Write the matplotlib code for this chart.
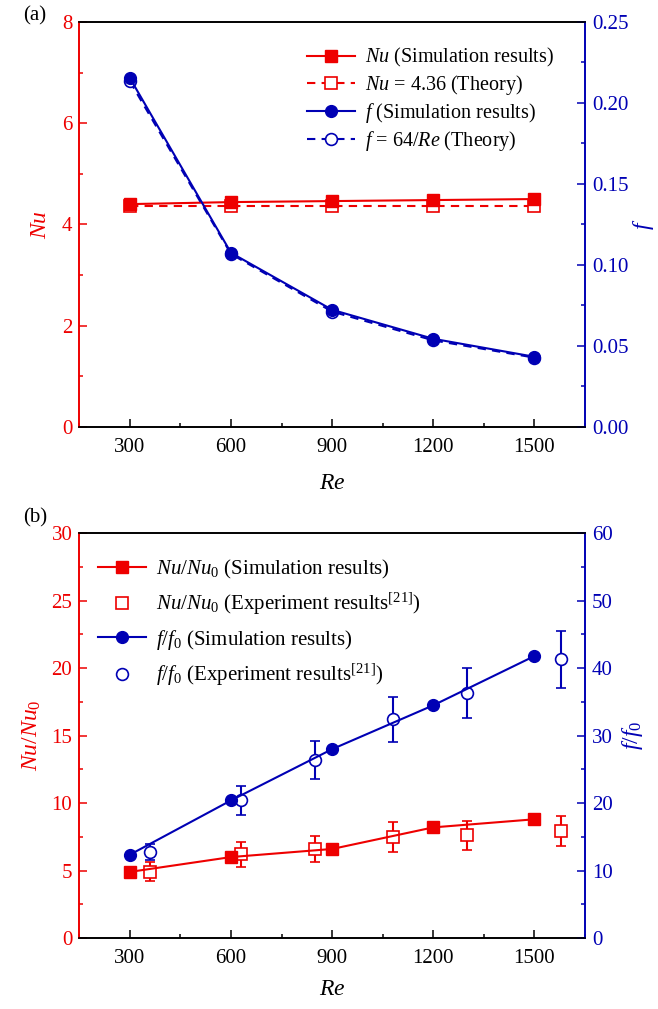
import matplotlib
matplotlib.use("Agg")
import matplotlib.pyplot as plt
import numpy as np
from matplotlib.ticker import MultipleLocator
from matplotlib.lines import Line2D

plt.rcParams['font.family'] = ['Liberation Serif', 'DejaVu Serif']
plt.rcParams['mathtext.fontset'] = 'custom'
plt.rcParams['mathtext.rm'] = 'Liberation Serif'
plt.rcParams['mathtext.it'] = 'Liberation Serif:italic'
plt.rcParams['mathtext.bf'] = 'Liberation Serif:bold'

# ---- data panel (a) ----
re_a = [300, 600, 900, 1200, 1500]
nu_sim = [4.40, 4.44, 4.46, 4.48, 4.50]
nu_theory = [4.36, 4.36, 4.36, 4.36, 4.36]
f_sim = [0.2154, 0.1074, 0.0722, 0.0543, 0.0432]
f_theory = [64 / r for r in re_a]

# ---- data panel (b) ----
re_b_sim = [300, 600, 900, 1200, 1500]
nu_ratio_sim = [4.9, 6.0, 6.6, 8.2, 8.8]
f_ratio_sim = [12.35, 20.4, 28.0, 34.5, 41.8]
re_b_exp = [360, 630, 850, 1080, 1300, 1580]
nu_ratio_exp = [4.9, 6.2, 6.6, 7.5, 7.6, 7.95]
nu_ratio_err = [0.7, 0.93, 0.95, 1.1, 1.1, 1.13]
f_ratio_exp = [12.75, 20.4, 26.4, 32.4, 36.3, 41.3]
f_ratio_err = [1.25, 2.1, 2.8, 3.3, 3.75, 4.25]

RED = '#ee0000'
BLUE = '#0000b4'
W, H = 658, 1009
fig = plt.figure(figsize=(W / 100, H / 100), dpi=100)

def ax_rect(l, r, t, b):
    return [l / W, 1 - b / H, (r - l) / W, (b - t) / H]

TICK_FS = 15
LAB_FS = 17

def style(ax, ax2, xpad):
    for a in (ax, ax2):
        a.spines['left'].set_color(RED)
        a.spines['right'].set_color(BLUE)
        for s in a.spines.values():
            s.set_linewidth(1.2)
    ax.set_xlim(150, 1650)
    ax.xaxis.set_major_locator(MultipleLocator(300))
    ax.xaxis.set_minor_locator(MultipleLocator(150))
    ax.tick_params(axis='x', which='both', direction='in', top=False, labelsize=TICK_FS, pad=8, width=1.1)
    ax.tick_params(axis='x', which='major', length=6)
    ax.tick_params(axis='x', which='minor', length=3)
    ax.tick_params(axis='y', which='both', direction='in', colors=RED, labelsize=TICK_FS, width=1.1, pad=5)
    ax.tick_params(axis='y', which='major', length=6)
    ax.tick_params(axis='y', which='minor', length=3)
    ax2.tick_params(axis='y', which='both', direction='in', colors=BLUE, labelsize=TICK_FS, width=1.1, pad=5)
    ax2.tick_params(axis='y', which='major', length=6)
    ax2.tick_params(axis='y', which='minor', length=3)
    ax.set_xlabel(r'$Re$', fontsize=LAB_FS, labelpad=xpad)

# ===== panel (a) =====
ax = fig.add_axes(ax_rect(79.3, 585, 22, 426.7))
ax2 = ax.twinx()
style(ax, ax2, 12)
ax.set_ylim(0, 8)
ax.yaxis.set_major_locator(MultipleLocator(2))
ax.yaxis.set_minor_locator(MultipleLocator(1))
ax2.set_ylim(0, 0.25)
ax2.yaxis.set_major_locator(MultipleLocator(0.05))
ax2.yaxis.set_minor_locator(MultipleLocator(0.025))
ax2.set_yticks(ax2.get_yticks())
ax2.set_yticklabels([f'{v:.2f}' for v in ax2.get_yticks()])
ax2.set_ylim(0, 0.25)
ax.set_ylabel(r'$Nu$', color=RED, fontsize=LAB_FS, labelpad=8)
ax2.set_ylabel(r'$f$', color=BLUE, fontsize=LAB_FS, labelpad=2)

h1, = ax.plot(re_a, nu_theory, ls=(0, (4, 3)), color=RED, lw=1.5, marker='s', ms=8,
              mfc='white', mec=RED, mew=1.2, label=r'$Nu$ = 4.36 (Theory)', zorder=3)
h0, = ax.plot(re_a, nu_sim, ls='-', color=RED, lw=1.5, marker='s', ms=8,
              mfc=RED, mec=RED, label=r'$Nu$ (Simulation results)', zorder=4)
h3, = ax2.plot(re_a, f_theory, ls=(0, (4, 3)), color=BLUE, lw=1.5, marker='o', ms=8.5,
               mfc='white', mec=BLUE, mew=1.2, label=r'$f$ = 64/$Re$ (Theory)', zorder=3)
h2, = ax2.plot(re_a, f_sim, ls='-', color=BLUE, lw=1.5, marker='o', ms=8.5,
               mfc=BLUE, mec=BLUE, label=r'$f$ (Simulation results)', zorder=4)
ax2.legend([h0, h1, h2, h3], [h.get_label() for h in (h0, h1, h2, h3)],
           loc='upper left', bbox_to_anchor=(0.45, 0.94), frameon=False,
           fontsize=14.5, borderpad=0, borderaxespad=0, handlelength=2.4,
           handletextpad=0.5, labelspacing=0.2)
fig.text(23 / W, 1 - 16 / H, '(a)', fontsize=15, va='center', ha='left')

# ===== panel (b) =====
bx = fig.add_axes(ax_rect(79.3, 585, 533.3, 938))
bx2 = bx.twinx()
style(bx, bx2, 8)
bx.set_ylim(0, 30)
bx.yaxis.set_major_locator(MultipleLocator(5))
bx.yaxis.set_minor_locator(MultipleLocator(2.5))
bx2.set_ylim(0, 60)
bx2.yaxis.set_major_locator(MultipleLocator(10))
bx2.yaxis.set_minor_locator(MultipleLocator(5))
bx.set_ylabel(r'$Nu/Nu_\mathit{0}$', color=RED, fontsize=LAB_FS, labelpad=6)
bx2.set_ylabel(r'$f/f_\mathit{0}$', color=BLUE, fontsize=LAB_FS, labelpad=5)

g0, = bx.plot(re_b_sim, nu_ratio_sim, '-', color=RED, lw=1.5, marker='s', ms=8,
              mfc=RED, mec=RED, zorder=4)
bx.errorbar(re_b_exp, nu_ratio_exp, yerr=nu_ratio_err, fmt='s', color=RED, ms=8,
            mfc='white', mec=RED, mew=1.2, ecolor=RED, elinewidth=1.5, capsize=3.5,
            capthick=1.5, zorder=3)
g2, = bx2.plot(re_b_sim, f_ratio_sim, '-', color=BLUE, lw=1.5, marker='o', ms=8.5,
               mfc=BLUE, mec=BLUE, zorder=4)
bx2.errorbar(re_b_exp, f_ratio_exp, yerr=f_ratio_err, fmt='o', color=BLUE, ms=8.5,
             mfc='white', mec=BLUE, mew=1.2, ecolor=BLUE, elinewidth=1.5, capsize=3.5,
             capthick=1.5, zorder=3)
lg1 = Line2D([], [], ls='none', marker='s', ms=8, mfc='white', mec=RED, mew=1.2)
lg3 = Line2D([], [], ls='none', marker='o', ms=8.5, mfc='white', mec=BLUE, mew=1.2)
labels_b = [r'$Nu/Nu_\mathit{0}$ (Simulation results)',
            r'$Nu/Nu_\mathit{0}$ (Experiment results$^{\mathrm{[21]}}$)',
            r'$f/f_\mathit{0}$ (Simulation results)',
            r'$f/f_{\mathrm{0}}$ (Experiment results$^{\mathrm{[21]}}$)']
bx2.legend([g0, lg1, g2, lg3], labels_b, loc='upper left', bbox_to_anchor=(0.037, 0.94),
           frameon=False, fontsize=15, borderpad=0, borderaxespad=0, handlelength=2.3,
           handletextpad=0.5, labelspacing=0.5)
fig.text(23 / W, 1 - 518 / H, '(b)', fontsize=15, va='center', ha='left')

fig.savefig('out.png', dpi=100)
